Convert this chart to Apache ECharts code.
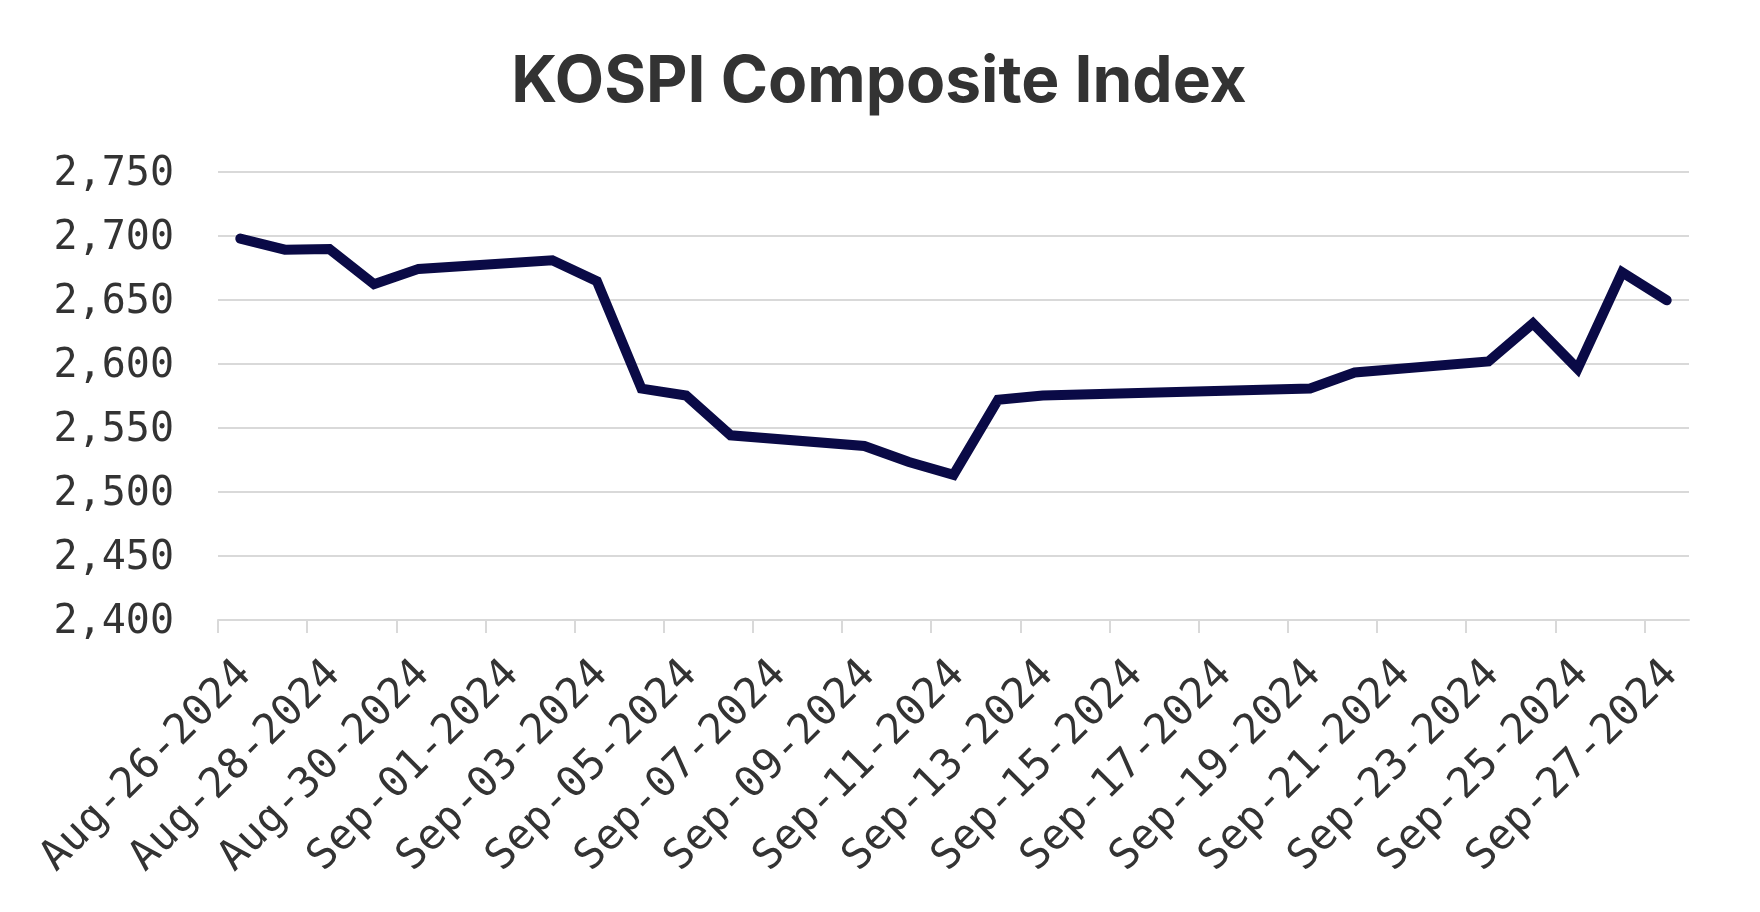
<!DOCTYPE html>
<html>
<head>
<meta charset="utf-8">
<title>KOSPI Composite Index</title>
<script src="https://cdn.jsdelivr.net/npm/echarts@6/dist/echarts.min.js"></script>
<style>
  html, body { margin: 0; padding: 0; background: #fff; }
  #chart { width: 1760px; height: 912px; }
</style>
</head>
<body>
<div id="chart"></div>
<script>
// trading days (Chuseok holiday Sep 16-18 missing)
const dates = [
  '2024-08-26', '2024-08-27', '2024-08-28', '2024-08-29', '2024-08-30',
  '2024-09-02', '2024-09-03', '2024-09-04', '2024-09-05', '2024-09-06',
  '2024-09-09', '2024-09-10', '2024-09-11', '2024-09-12', '2024-09-13',
  '2024-09-19', '2024-09-20', '2024-09-23', '2024-09-24', '2024-09-25',
  '2024-09-26', '2024-09-27'
];
const kospi = [
  2698.0, 2689.3, 2689.8, 2662.3, 2674.3,
  2681.0, 2664.6, 2580.8, 2575.4, 2544.3,
  2535.9, 2523.4, 2513.4, 2572.1, 2575.4,
  2580.8, 2593.4, 2602.0, 2631.7, 2596.3,
  2671.6, 2649.8
];
// x tick labels, every other day
const tickDates = [
  '2024-08-26', '2024-08-28', '2024-08-30', '2024-09-01', '2024-09-03',
  '2024-09-05', '2024-09-07', '2024-09-09', '2024-09-11', '2024-09-13',
  '2024-09-15', '2024-09-17', '2024-09-19', '2024-09-21', '2024-09-23',
  '2024-09-25', '2024-09-27'
];
const xStart = '2024-08-26';
const xEnd = '2024-09-28';

const DAY = 86400000;
const months = ['Jan', 'Feb', 'Mar', 'Apr', 'May', 'Jun', 'Jul', 'Aug', 'Sep', 'Oct', 'Nov', 'Dec'];
const toTs = s => Date.parse(s + 'T00:00:00Z');
const pad = n => (n < 10 ? '0' : '') + n;
function fmtDate(v) {
  const d = new Date(v);
  return months[d.getUTCMonth()] + '-' + pad(d.getUTCDate()) + '-' + d.getUTCFullYear();
}

// points sit in the middle of their day
const seriesData = dates.map((d, i) => [toTs(d) + DAY / 2, kospi[i]]);
const tickValues = tickDates.map(toTs);

const chart = echarts.init(document.getElementById('chart'));

const option = {
  animation: false,
  title: {
    text: 'KOSPI Composite Index',
    left: 874,
    textAlign: 'center',
    top: 46,
    textStyle: {
      fontFamily: 'Inter',
      fontWeight: 'bold',
      fontSize: 64,
      color: '#333333'
    }
  },
  grid: {
    left: 218,
    right: 71,
    top: 172,
    bottom: 292
  },
  xAxis: {
    type: 'value',
    min: toTs(xStart),
    max: toTs(xEnd),
    splitLine: { show: false },
    axisLine: {
      lineStyle: { color: '#d9d9d9', width: 2 }
    },
    axisTick: {
      show: true,
      length: 13,
      customValues: tickValues,
      lineStyle: { color: '#d9d9d9', width: 2 }
    },
    axisLabel: {
      customValues: tickValues,
      showMinLabel: true,
      showMaxLabel: true,
      hideOverlap: false,
      rotate: 45,
      margin: 21,
      align: 'right',
      verticalAlign: 'top',
      padding: [15, 0, 0, 0],
      lineHeight: 46,
      fontFamily: 'DejaVu Sans Mono',
      fontSize: 42,
      color: '#333333',
      formatter: fmtDate
    }
  },
  yAxis: {
    type: 'value',
    min: 2400,
    max: 2750,
    interval: 50,
    axisLine: { show: false },
    axisTick: { show: false },
    splitLine: {
      lineStyle: { color: '#d9d9d9', width: 2 }
    },
    axisLabel: {
      margin: 44,
      verticalAlign: 'top',
      lineHeight: 6,
      fontFamily: 'DejaVu Sans Mono',
      fontSize: 40,
      color: '#333333',
      formatter: v => v.toLocaleString('en-US')
    }
  },
  series: [
    {
      name: 'KOSPI',
      type: 'line',
      data: seriesData,
      showSymbol: false,
      lineStyle: {
        color: '#0a0a46',
        width: 10,
        cap: 'round',
        join: 'miter'
      }
    }
  ]
};

chart.setOption(option);
</script>
</body>
</html>
